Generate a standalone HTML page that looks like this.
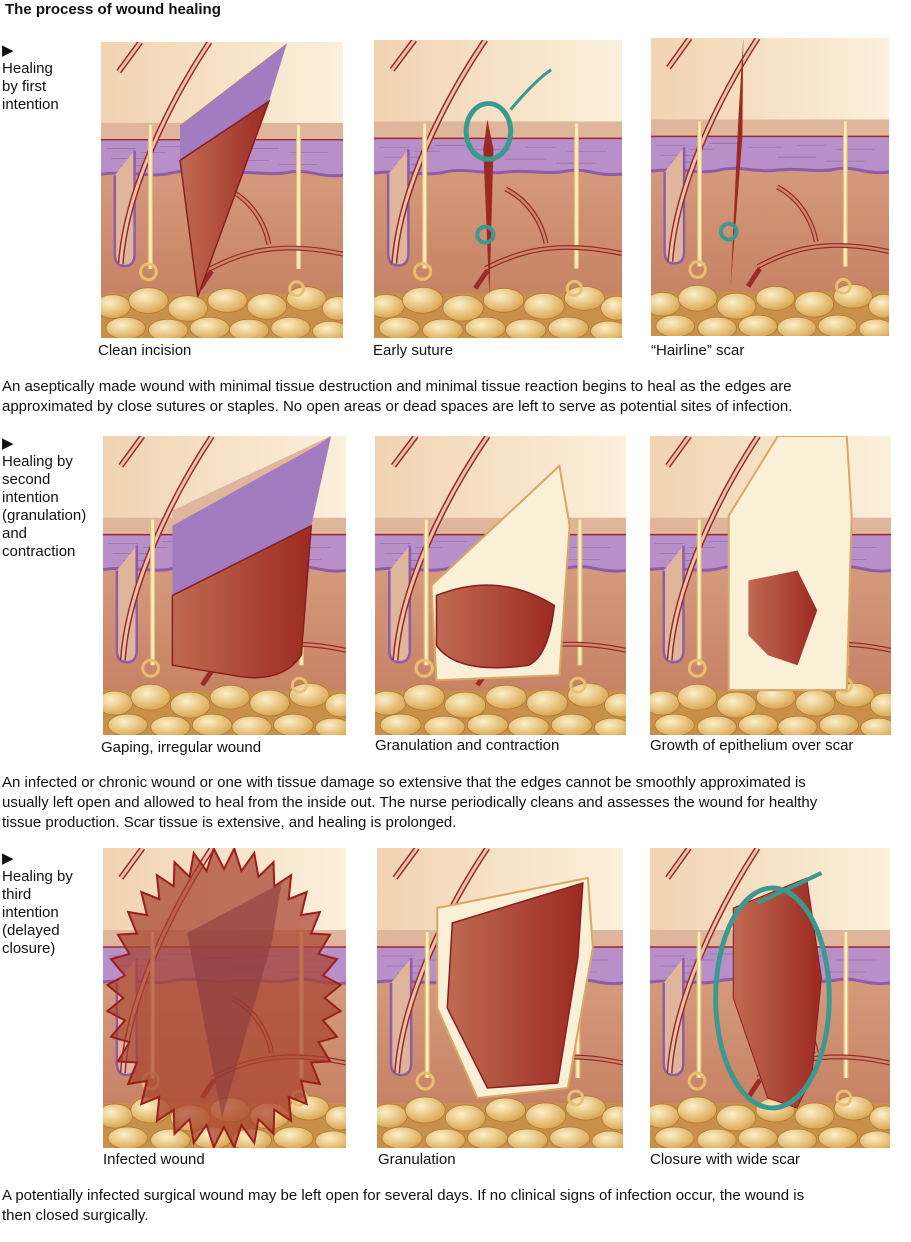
<!DOCTYPE html>
<html><head><meta charset="utf-8"><style>
body{margin:0;width:911px;height:1242px;background:#fff;position:relative;font-family:"Liberation Sans",sans-serif;color:#111;overflow:hidden}
.t{position:absolute;font-size:15px;line-height:20px;white-space:nowrap}
.lab{position:absolute;font-size:15px;line-height:18px;left:2px}
svg.p{position:absolute}
</style></head><body>
<svg width="0" height="0" style="position:absolute">
<defs>
<linearGradient id="sky" x1="0" y1="0" x2="1" y2="0"><stop offset="0" stop-color="#f1d3b0"/><stop offset="1" stop-color="#fbf0dc"/></linearGradient>
<linearGradient id="der" x1="0" y1="0" x2="0" y2="1"><stop offset="0" stop-color="#d59a7c"/><stop offset="1" stop-color="#c27a5d"/></linearGradient>
<linearGradient id="wd" x1="0" y1="0" x2="1" y2="0"><stop offset="0" stop-color="#c06a52"/><stop offset="1" stop-color="#9c2a22"/></linearGradient>
<radialGradient id="fat" cx="0.4" cy="0.35" r="0.7"><stop offset="0" stop-color="#fbf0c8"/><stop offset="1" stop-color="#d9a24a"/></radialGradient>
<g id="bg">
<rect width="245" height="300" fill="url(#sky)"/>
<rect y="82" width="245" height="17" fill="#dfb59c"/>
<path d="M0 99H245V135C220 138 210 128 190 132 170 136 150 130 130 133 110 136 90 128 70 133 50 138 30 130 0 134Z" fill="#b88fc8"/>
<line x1="0" y1="99" x2="245" y2="99" stroke="#9b2a2a" stroke-width="1.5"/>
<path d="M0 134C30 130 50 138 70 133 90 128 110 136 130 133 150 130 170 136 190 132 210 128 220 138 245 135V300H0Z" fill="url(#der)"/>
<path d="M0 134C30 130 50 138 70 133 90 128 110 136 130 133 150 130 170 136 190 132 210 128 220 138 245 135" fill="none" stroke="#8f5ca8" stroke-width="3"/>
<g stroke="#8a6aa0" stroke-width="0.8" opacity="0.7">
<path d="M5 108h30M40 112h25M10 118h40M60 106h30M100 110h35M150 108h30M190 112h40M130 120h40M20 125h30M180 124h40"/></g>
<rect y="255" width="245" height="45" fill="#c8904a"/>
<g fill="url(#fat)" stroke="#b07a30" stroke-width="0.8">
<ellipse cx="12" cy="268" rx="18" ry="12"/><ellipse cx="48" cy="262" rx="20" ry="13"/><ellipse cx="88" cy="270" rx="20" ry="13"/><ellipse cx="128" cy="262" rx="20" ry="12"/><ellipse cx="168" cy="268" rx="20" ry="13"/><ellipse cx="208" cy="260" rx="20" ry="12"/><ellipse cx="240" cy="270" rx="16" ry="12"/>
<ellipse cx="25" cy="290" rx="20" ry="11"/><ellipse cx="68" cy="292" rx="20" ry="11"/><ellipse cx="110" cy="290" rx="20" ry="11"/><ellipse cx="150" cy="292" rx="20" ry="11"/><ellipse cx="192" cy="290" rx="20" ry="11"/><ellipse cx="232" cy="293" rx="18" ry="10"/></g>
<path d="M14 135V215q0 12 10 12t10-12V110" fill="#dfb59c" stroke="#8f5ca8" stroke-width="2.5"/>
<path d="M20 225C25 150 70 60 110 0" fill="none" stroke="#9b2a2a" stroke-width="6"/>
<path d="M20 225C25 150 70 60 110 0" fill="none" stroke="#e6c2a8" stroke-width="3"/>
<path d="M18 30L40 0" stroke="#9b2a2a" stroke-width="6"/><path d="M18 30L40 0" stroke="#e6c2a8" stroke-width="3"/>
<path d="M50 84V230M200 84V230" stroke="#e8c070" stroke-width="5"/><path d="M50 84V230M200 84V230" stroke="#fbf0d0" stroke-width="2.5"/>
<circle cx="48" cy="233" r="8" fill="none" stroke="#e8c070" stroke-width="3"/><circle cx="198" cy="250" r="7" fill="none" stroke="#e8c070" stroke-width="3"/>
<path d="M110 230C140 215 175 200 245 215M170 205C165 180 150 160 130 150M100 250L112 232" fill="none" stroke="#9b2a2a" stroke-width="5"/>
<path d="M110 230C140 215 175 200 245 215M170 205C165 180 150 160 130 150" fill="none" stroke="#c98a6c" stroke-width="2.5"/>
</g>
</defs></svg>

<div class="t" style="left:5px;top:0px;font-weight:bold;font-size:15px">The process of wound healing</div>

<div class="lab" style="top:42px">▶<br>Healing<br>by first<br>intention</div>
<div class="lab" style="top:435px">▶<br>Healing by<br>second<br>intention<br>(granulation)<br>and<br>contraction</div>
<div class="lab" style="top:850px">▶<br>Healing by<br>third<br>intention<br>(delayed<br>closure)</div>

<svg class="p" style="left:101px;top:42px" width="242" height="296" viewBox="0 0 245 300" preserveAspectRatio="none"><use href="#bg"/>
<path d="M80 85L188 2 108 78Z" fill="#dfb59c" stroke="#c08040"/><path d="M80 85L188 2 170 60 80 120Z" fill="#a27cc0"/>
<path d="M80 120L170 60 98 258Z" fill="url(#wd)" stroke="#8a1e1e" stroke-width="1.5"/></svg>
<svg class="p" style="left:374px;top:40px" width="248" height="298" viewBox="0 0 245 300" preserveAspectRatio="none"><use href="#bg"/>
<path d="M112 80L118 110 114 258 108 110Z" fill="#9c2a22"/>
<ellipse cx="113" cy="92" rx="22" ry="28" fill="none" stroke="#3a9a90" stroke-width="5"/>
<path d="M135 70Q160 40 175 30" stroke="#3a9a90" stroke-width="3" fill="none"/>
<circle cx="110" cy="196" r="8" fill="none" stroke="#3a9a90" stroke-width="4"/></svg>
<svg class="p" style="left:651px;top:38px" width="238" height="298" viewBox="0 0 245 300" preserveAspectRatio="none"><use href="#bg"/>
<path d="M95 0L90 80 82 250 94 100Z" fill="#9c2a22"/>
<circle cx="80" cy="195" r="8" fill="none" stroke="#3a9a90" stroke-width="4"/></svg>
<div class="t" style="left:98px;top:341px">Clean incision</div>
<div class="t" style="left:373px;top:341px">Early suture</div>
<div class="t" style="left:651px;top:341px">“Hairline” scar</div>
<div class="t" style="left:2px;top:377px">An aseptically made wound with minimal tissue destruction and minimal tissue reaction begins to heal as the edges are</div>
<div class="t" style="left:2px;top:397px">approximated by close sutures or staples. No open areas or dead spaces are left to serve as potential sites of infection.</div>

<svg class="p" style="left:103px;top:436px" width="243" height="299" viewBox="0 0 245 300" preserveAspectRatio="none"><use href="#bg"/>
<path d="M70 75L230 0 210 90 70 160Z" fill="#a27cc0"/><path d="M70 75L230 0 215 10 70 90Z" fill="#dfb59c"/>
<path d="M70 160L210 90 200 220Q180 250 130 240L70 230Z" fill="url(#wd)" stroke="#8a1e1e" stroke-width="1.5"/></svg>
<svg class="p" style="left:375px;top:436px" width="251" height="299" viewBox="0 0 245 300" preserveAspectRatio="none"><use href="#bg"/>
<path d="M55 150L180 30 190 90 180 240 60 245Z" fill="#faf0d8" stroke="#d8a860" stroke-width="2"/>
<path d="M60 160Q120 135 175 170 170 220 150 230 80 240 60 210Z" fill="url(#wd)" stroke="#8a1e1e" stroke-width="1.5"/></svg>
<svg class="p" style="left:650px;top:436px" width="241" height="299" viewBox="0 0 245 300" preserveAspectRatio="none"><use href="#bg"/>
<path d="M80 80L130 0 200 0 205 80 200 255 80 255Z" fill="#faf0d8" stroke="#d8a860" stroke-width="2"/>
<path d="M100 145L150 135 170 175 150 230 120 220 100 200Z" fill="url(#wd)"/></svg>
<div class="t" style="left:101px;top:738px">Gaping, irregular wound</div>
<div class="t" style="left:375px;top:736px">Granulation and contraction</div>
<div class="t" style="left:650px;top:736px">Growth of epithelium over scar</div>
<div class="t" style="left:2px;top:773px">An infected or chronic wound or one with tissue damage so extensive that the edges cannot be smoothly approximated is</div>
<div class="t" style="left:2px;top:793px">usually left open and allowed to heal from the inside out. The nurse periodically cleans and assesses the wound for healthy</div>
<div class="t" style="left:2px;top:813px">tissue production. Scar tissue is extensive, and healing is prolonged.</div>

<svg class="p" style="left:103px;top:848px" width="243" height="300" viewBox="0 0 245 300" preserveAspectRatio="none"><use href="#bg"/>
<polygon id="spk" points="" fill="#a8422f" fill-opacity="0.72" stroke="#9b1e1e" stroke-width="2" stroke-linejoin="miter"/>
<path d="M85 85L180 35 170 95 120 270Z" fill="#8a3a40" opacity="0.6"/></svg>
<svg class="p" style="left:377px;top:848px" width="246" height="300" viewBox="0 0 245 300" preserveAspectRatio="none"><use href="#bg"/>
<path d="M60 60L210 30 215 100 190 240 100 250 60 160Z" fill="#faf0d8" stroke="#d8a860" stroke-width="2"/>
<path d="M75 75L205 35 200 110 180 235 110 240 70 160Z" fill="url(#wd)" stroke="#8a1e1e" stroke-width="1.5"/></svg>
<svg class="p" style="left:650px;top:848px" width="240" height="300" viewBox="0 0 245 300" preserveAspectRatio="none"><use href="#bg"/>
<path d="M85 60L160 30 175 130 165 230 150 260 120 250 85 150Z" fill="url(#wd)" stroke="#8a1e1e"/>
<ellipse cx="125" cy="150" rx="58" ry="110" fill="none" stroke="#3a9a90" stroke-width="5"/>
<path d="M110 55L175 25" stroke="#3a9a90" stroke-width="4"/></svg>
<script>
(function(){var p=[],n=72,cx=122,cy=150;for(var i=0;i<n;i++){var a=i/n*2*Math.PI,r=(i%2?1:0.86);p.push((cx+Math.cos(a)*118*r).toFixed(1)+","+(cy+Math.sin(a)*150*r).toFixed(1));}document.getElementById("spk").setAttribute("points",p.join(" "));})();
</script>
<div class="t" style="left:103px;top:1150px">Infected wound</div>
<div class="t" style="left:378px;top:1150px">Granulation</div>
<div class="t" style="left:650px;top:1150px">Closure with wide scar</div>
<div class="t" style="left:2px;top:1186px">A potentially infected surgical wound may be left open for several days. If no clinical signs of infection occur, the wound is</div>
<div class="t" style="left:2px;top:1206px">then closed surgically.</div>
</body></html>
